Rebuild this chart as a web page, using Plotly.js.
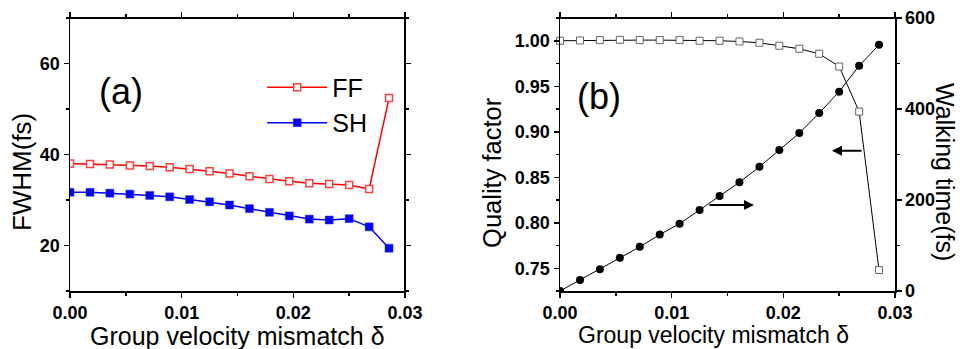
<!DOCTYPE html>
<html>
<head>
<meta charset="utf-8">
<script src="https://cdn.plot.ly/plotly-3.0.1.min.js"></script>
<style>html,body{margin:0;padding:0;background:#fff;}#chart{width:960px;height:349px;}</style>
</head>
<body>
<div id="chart"></div>
<script>
// Group velocity mismatch delta (shared x values)
const delta = [0, 0.00179, 0.00357, 0.00536, 0.00714, 0.00893, 0.01071, 0.0125, 0.01429,
               0.01607, 0.01786, 0.01964, 0.02143, 0.02321, 0.025, 0.02679, 0.02857];
// Panel (a): FWHM (fs)
const fwhmFF = [38.0, 37.9, 37.8, 37.6, 37.5, 37.2, 36.8, 36.3, 35.8, 35.2, 34.6, 34.1, 33.7, 33.5, 33.3, 32.4, 52.4];
const fwhmSH = [31.7, 31.7, 31.5, 31.3, 31.0, 30.7, 30.1, 29.6, 28.9, 28.1, 27.3, 26.5, 25.8, 25.6, 25.9, 24.1, 19.4];
// Panel (b): quality factor and walking time (fs)
const quality = [1.000, 1.0003, 1.0007, 1.001, 1.0007, 1.0007, 1.0007, 1.000, 1.000, 0.9992, 0.9978, 0.9945, 0.9912, 0.9857, 0.9717, 0.9221, 0.748];
const walking = [0, 24, 48, 73, 97, 124, 148, 178, 209, 239, 273, 310, 347, 391, 438, 495, 541];

const FONT = 'Arial, "Liberation Sans", sans-serif';
const tickFont = {family: FONT, size: 18, color: '#000', weight: 'bold'};

const traces = [
  {x: delta, y: fwhmFF, name: 'FF', type: 'scatter', mode: 'lines+markers', xaxis: 'x', yaxis: 'y',
   line: {color: '#ff0000', width: 1.5},
   marker: {symbol: 'square', size: 7, color: '#ffffff', line: {color: '#ff4040', width: 1.5}}},
  {x: delta, y: fwhmSH, name: 'SH', type: 'scatter', mode: 'lines+markers', xaxis: 'x', yaxis: 'y',
   line: {color: '#0000ff', width: 1.5},
   marker: {symbol: 'square', size: 8, color: '#0000ff', line: {color: '#3333ff', width: 0.5}}},
  {x: delta, y: quality, name: 'Quality factor', type: 'scatter', mode: 'lines+markers', xaxis: 'x2', yaxis: 'y2',
   showlegend: false, cliponaxis: false,
   line: {color: '#000', width: 1},
   marker: {symbol: 'square', size: 7, color: '#ffffff', line: {color: '#666', width: 1}}},
  {x: delta, y: walking, name: 'Walking time', type: 'scatter', mode: 'lines+markers', xaxis: 'x2', yaxis: 'y3',
   showlegend: false,
   line: {color: '#000', width: 1},
   marker: {symbol: 'circle', size: 8, color: '#000'}}
];

const baseX = {
  range: [0, 0.03], dtick: 0.01, tick0: 0, tickformat: '.2f',
  showline: true, linecolor: '#000000', linewidth: 1.5, mirror: 'ticks',
  ticks: 'outside', ticklen: 5, tickwidth: 1.5, tickcolor: '#000',
  minor: {dtick: 0.005, ticks: 'outside', ticklen: 3, tickwidth: 1.5, tickcolor: '#000'},
  showgrid: false, zeroline: false, tickfont: tickFont, fixedrange: true
};
const baseY = {
  showline: true, linecolor: '#000000', linewidth: 1.5,
  ticks: 'outside', ticklen: 5, tickwidth: 1.5, tickcolor: '#000',
  showgrid: false, zeroline: false, tickfont: tickFont, fixedrange: true
};

const xL = Object.assign({}, baseX, {domain: [0, 0.40606], anchor: 'y'});
const xR = Object.assign({}, baseX, {domain: [0.59394, 1], anchor: 'y2'});
const yL = Object.assign({}, baseY, {domain: [0, 1], anchor: 'x', range: [10, 70], dtick: 20, tick0: 0, mirror: 'ticks',
  minor: {dtick: 10, ticks: 'outside', ticklen: 3, tickwidth: 1.5, tickcolor: '#000'}});
const yR = Object.assign({}, baseY, {domain: [0, 1], anchor: 'x2', range: [0.725, 1.025], dtick: 0.05, tick0: 0,
  tickformat: '.2f', minor: {dtick: 0.025, ticks: 'outside', ticklen: 3, tickwidth: 1.5, tickcolor: '#000'}});
const yW = Object.assign({}, baseY, {overlaying: 'y2', side: 'right', anchor: 'x2', range: [0, 600], dtick: 200, tick0: 0,
  minor: {dtick: 100, ticks: 'outside', ticklen: 3, tickwidth: 1.5, tickcolor: '#000'}});

const titleFont = (s) => ({family: FONT, size: s, color: '#000'});

const layout = {
  width: 960, height: 349,
  margin: {l: 70, r: 65, t: 18, b: 58},
  paper_bgcolor: '#fff', plot_bgcolor: '#fff',
  font: {family: FONT, color: '#000'},
  showlegend: true,
  legend: {x: 0.233, y: 0.83, xanchor: 'left', yanchor: 'top', bgcolor: 'rgba(0,0,0,0)',
           font: {family: FONT, size: 25, color: '#000'}, itemwidth: 60, tracegroupgap: 0},
  xaxis: xL, yaxis: yL,
  xaxis2: xR, yaxis2: yR, yaxis3: yW,
  shapes: [
    // frame edges (top of both panels, right edge of panel a)
    {type: 'line', xref: 'paper', yref: 'paper', x0: 0, x1: 0.40606, y0: 1, y1: 1,
     line: {color: '#000000', width: 2}, layer: 'above'},
    {type: 'line', xref: 'paper', yref: 'paper', x0: 0.40606, x1: 0.40606, y0: 0, y1: 1,
     line: {color: '#000000', width: 2}, layer: 'above'},
    {type: 'line', xref: 'paper', yref: 'paper', x0: 0.59394, x1: 1, y0: 1, y1: 1,
     line: {color: '#000000', width: 2}, layer: 'above'}
  ],
  annotations: [
    {text: '(a)', xref: 'paper', yref: 'paper', x: 0.0618, y: 0.729, xanchor: 'center', yanchor: 'middle',
     showarrow: false, font: titleFont(36)},
    {text: '(b)', xref: 'paper', yref: 'paper', x: 0.641, y: 0.711, xanchor: 'center', yanchor: 'middle',
     showarrow: false, font: titleFont(36)},
    {text: 'Group velocity mismatch δ', xref: 'paper', yref: 'paper', x: 0.2036, y: -0.105,
     xanchor: 'center', yanchor: 'top', showarrow: false, font: titleFont(25)},
    {text: 'Group velocity mismatch δ', xref: 'paper', yref: 'paper', x: 0.7806, y: -0.105,
     xanchor: 'center', yanchor: 'top', showarrow: false, font: titleFont(23)},
    {text: 'FWHM(fs)', xref: 'paper', yref: 'paper', x: -0.058, y: 0.436, textangle: -90,
     xanchor: 'center', yanchor: 'middle', showarrow: false, font: titleFont(26)},
    {text: 'Quality factor', xref: 'paper', yref: 'paper', x: 0.5115, y: 0.436, textangle: -90,
     xanchor: 'center', yanchor: 'middle', showarrow: false, font: titleFont(25.5)},
    {text: 'Walking time(fs)', xref: 'paper', yref: 'paper', x: 1.0606, y: 0.436, textangle: 90,
     xanchor: 'center', yanchor: 'middle', showarrow: false, font: titleFont(25)},
    {text: '', xref: 'x2', yref: 'y3', x: 0.01737, y: 189, ax: -46, ay: 0, showarrow: true,
     arrowhead: 2, arrowsize: 1, arrowwidth: 2, arrowcolor: '#000'},
    {text: '', xref: 'x2', yref: 'y3', x: 0.02436, y: 308, ax: 31, ay: 0, showarrow: true,
     arrowhead: 2, arrowsize: 1, arrowwidth: 2, arrowcolor: '#000'}
  ]
};

Plotly.newPlot('chart', traces, layout, {staticPlot: true, displayModeBar: false});
</script>
</body>
</html>
